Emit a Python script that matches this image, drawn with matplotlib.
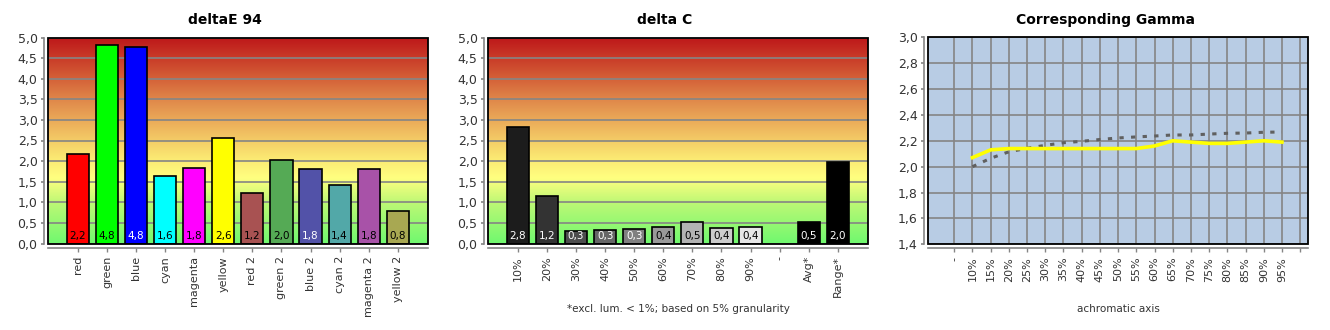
"""Three-panel calibration report: deltaE 94, delta C and corresponding gamma."""
import numpy as np
import matplotlib
matplotlib.use('Agg')
import matplotlib.pyplot as plt
from matplotlib.colors import LinearSegmentedColormap
from matplotlib.patches import Rectangle

plt.rcParams['font.family'] = ['DejaVu Sans']

# --- data ---
de_labels = ['red', 'green', 'blue', 'cyan', 'magenta', 'yellow',
             'red 2', 'green 2', 'blue 2', 'cyan 2', 'magenta 2', 'yellow 2']
de_values = [2.18, 4.83, 4.76, 1.64, 1.83, 2.57, 1.23, 2.03, 1.80, 1.43, 1.82, 0.80]
de_colors = ['#FF0000', '#00FF00', '#0000FF', '#00FFFF', '#FF00FF', '#FFFF00',
             '#A85252', '#55AA55', '#5252A8', '#52A8A8', '#A852A8', '#A8A852']
de_text_colors = ['black', 'black', 'white', 'black', 'black', 'black',
                  'black', 'black', 'white', 'black', 'black', 'black']

dc_labels = ['10%', '20%', '30%', '40%', '50%', '60%', '70%', '80%', '90%', '-', 'Avg*', 'Range*']
dc_values = [2.83, 1.16, 0.30, 0.32, 0.34, 0.39, 0.51, 0.37, 0.39, None, 0.52, 1.97]
dc_colors = ['#1C1C1C', '#333333', '#4D4D4D', '#666666', '#808080', '#999999',
             '#B3B3B3', '#CCCCCC', '#E6E6E6', None, '#000000', '#000000']
dc_text_colors = ['white', 'white', 'white', 'white', 'white', 'black',
                  'black', 'black', 'black', None, 'white', 'white']

gamma_labels = ['-', '10%', '15%', '20%', '25%', '30%', '35%', '40%', '45%', '50%',
                '55%', '60%', '65%', '70%', '75%', '80%', '85%', '90%', '95%']
gamma_measured = [None, 2.07, 2.13, 2.14, 2.14, 2.14, 2.14, 2.14, 2.14, 2.14,
                  2.14, 2.16, 2.20, 2.19, 2.18, 2.18, 2.19, 2.20, 2.19]
gamma_reference = [None, 2.00, 2.065, 2.115, 2.142, 2.165, 2.185, 2.196, 2.21, 2.222,
                   2.23, 2.237, 2.245, 2.245, 2.252, 2.258, 2.26, 2.266, 2.268]

W, H = 1330, 330
GRID = '#858585'
TICK_TXT = '#333333'

bg_cmap = LinearSegmentedColormap.from_list('traffic', [
    (0.00, '#6FF96F'), (0.20, '#BDF875'), (0.32, '#FFFF80'), (0.42, '#FBE872'),
    (0.55, '#F0BC60'), (0.70, '#E0884A'), (0.85, '#CF4F30'), (1.00, '#BE181A')], N=1024)


def style_axis(ax, ymin, ymax, step):
    ax.set_ylim(ymin, ymax)
    ax.set_yticks(np.arange(ymin, ymax + step / 2, step))
    ax.yaxis.set_major_formatter(plt.FuncFormatter(lambda v, _: f'{v:.1f}'.replace('.', ',')))
    for s in ('top', 'right'):
        ax.spines[s].set_visible(False)
    for s in ('left', 'bottom'):
        ax.spines[s].set_position(('outward', 3))
        ax.spines[s].set_color(GRID)
        ax.spines[s].set_linewidth(1.2)
    ax.tick_params(axis='y', colors=GRID, labelcolor=TICK_TXT, length=2.5, width=1.2,
                   labelsize=9, pad=2)
    ax.tick_params(axis='x', colors=GRID, labelcolor=TICK_TXT, length=3, width=1,
                   labelsize=8, pad=3)
    ax.add_patch(Rectangle((0, 0), 1, 1, transform=ax.transAxes, fill=False,
                           ec='black', lw=1.3, zorder=6, clip_on=False))
    ax.set_axisbelow(True)
    ax.yaxis.grid(True, color=GRID, lw=1.2)


def bar_panel(ax, labels, values, colors, text_colors):
    xlim = (-1.03, len(labels) + 0.04)
    ax.set_xlim(*xlim)
    style_axis(ax, 0, 5, 0.5)
    ax.imshow(np.linspace(0, 1, 1024).reshape(-1, 1), cmap=bg_cmap, origin='lower',
              extent=(xlim[0], xlim[1], 0, 5), aspect='auto', zorder=0,
              interpolation='bilinear')
    for i, (v, c, tc) in enumerate(zip(values, colors, text_colors)):
        if v is None:
            continue
        ax.bar(i, v, width=0.76, color=c, edgecolor='black', lw=1.2, zorder=3)
        ax.text(i, 0.19, f'{v:.1f}'.replace('.', ','), ha='center', va='center',
                fontsize=7.5, color=tc, zorder=4)
    ax.set_xticks(range(len(labels)))
    ax.set_xticklabels(labels, rotation=90)


fig = plt.figure(figsize=(W / 100, H / 100), dpi=100)
ax_bottom = 1 - 243.5 / H
ax_h = 206 / H
ax_w = 380 / W

ax1 = fig.add_axes([48 / W, ax_bottom, ax_w, ax_h])
bar_panel(ax1, de_labels, de_values, de_colors, de_text_colors)

ax2 = fig.add_axes([488 / W, ax_bottom, ax_w, ax_h])
bar_panel(ax2, dc_labels, dc_values, dc_colors, dc_text_colors)

ax3 = fig.add_axes([928 / W, 1 - 244.3 / H, ax_w, 207 / H])
ax3.set_xlim(-1.44, len(gamma_labels) + 0.43)
style_axis(ax3, 1.4, 3.0, 0.2)
ax3.set_facecolor('#B8CCE4')
ax3.xaxis.grid(True, color=GRID, lw=1.2)
ax3.set_xticks(range(len(gamma_labels) + 1))
ax3.set_xticklabels(gamma_labels + [''], rotation=90)
x = np.arange(len(gamma_labels))
ref = np.array([np.nan if v is None else v for v in gamma_reference])
meas = np.array([np.nan if v is None else v for v in gamma_measured])
ax3.plot(x, ref, color='#606060', lw=2.2, ls=(0, (1.4, 2.4)), zorder=4)
ax3.plot(x, meas, color='#FFFF00', lw=2.6, zorder=5)

# titles centered on each third of the figure, footnotes on the plot area
for x0, title in [(225, 'deltaE 94'), (665, 'delta C'), (1105, 'Corresponding Gamma')]:
    fig.text(x0 / W, 1 - 20 / H, title, ha='center', va='center',
             fontsize=10, fontweight='bold', color='black')
fig.text(678 / W, 1 - 309 / H, '*excl. lum. < 1%; based on 5% granularity',
         ha='center', va='center', fontsize=7.5, color=TICK_TXT)
fig.text(1118 / W, 1 - 309 / H, 'achromatic axis',
         ha='center', va='center', fontsize=7.5, color=TICK_TXT)

fig.savefig('out.png', dpi=100)
plt.close(fig)
